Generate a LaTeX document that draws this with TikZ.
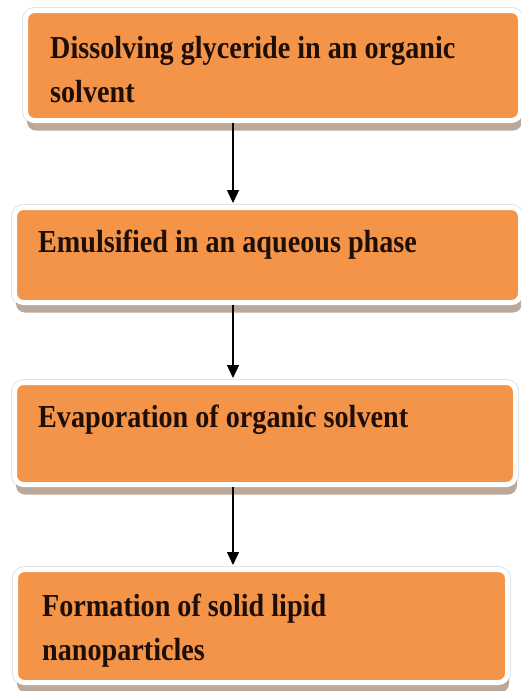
\documentclass[tikz,border=0pt]{standalone}
\usepackage{fontspec}
\usetikzlibrary{arrows.meta,shadows}
\newfontfamily\boxfont{Liberation Serif}[FakeStretch=0.88]
\definecolor{boxorange}{RGB}{243,148,72}
\definecolor{shadowc}{RGB}{188,168,152}
\definecolor{rimc}{RGB}{222,228,236}
\definecolor{txtc}{RGB}{30,14,8}
\tikzset{
  stepbox/.style={rectangle, rounded corners=9pt, inner sep=0pt,
    fill=boxorange, draw=white, line width=5pt,
    preaction={draw=rimc, line width=7pt},
    drop shadow={shadow xshift=1.5pt, shadow yshift=-10pt, fill=shadowc, opacity=1}},
  steptext/.style={anchor=base west, inner sep=0pt, align=left, text=txtc,
    font=\boxfont\bfseries\fontsize{32}{44}\selectfont},
  flowarrow/.style={-{Triangle[length=13pt,width=12pt]}, line width=1.3pt, black, shorten >=2pt}
}
\begin{document}
\begin{tikzpicture}[x=1pt,y=-1pt]
\useasboundingbox (0,0) rectangle (520,691);
\fill[white] (0,0) rectangle (520,691);
\node[stepbox, minimum width=495pt, minimum height=110pt] (b1) at (273,65.5) {};
\node[stepbox, minimum width=506pt, minimum height=95pt] (b2) at (267.5,255) {};
\node[stepbox, minimum width=501pt, minimum height=102pt] (b3) at (265,433.5) {};
\node[stepbox, minimum width=492pt, minimum height=113pt] (b4) at (261.5,626) {};
\node[steptext] (t1) at (50,102) {Dissolving glyceride in an organic\\solvent};
\node[steptext] (t2) at (38,252) {Emulsified in an aqueous phase};
\node[steptext] (t3) at (38,427) {Evaporation of organic solvent};
\node[steptext] (t4) at (42,660) {Formation of solid lipid\\nanoparticles};
\draw[flowarrow] (b1.south -| 233,0) -- (b2.north -| 233,0);
\draw[flowarrow] (b2.south -| 233,0) -- (b3.north -| 233,0);
\draw[flowarrow] (b3.south -| 233,0) -- (b4.north -| 233,0);
\end{tikzpicture}
\end{document}
